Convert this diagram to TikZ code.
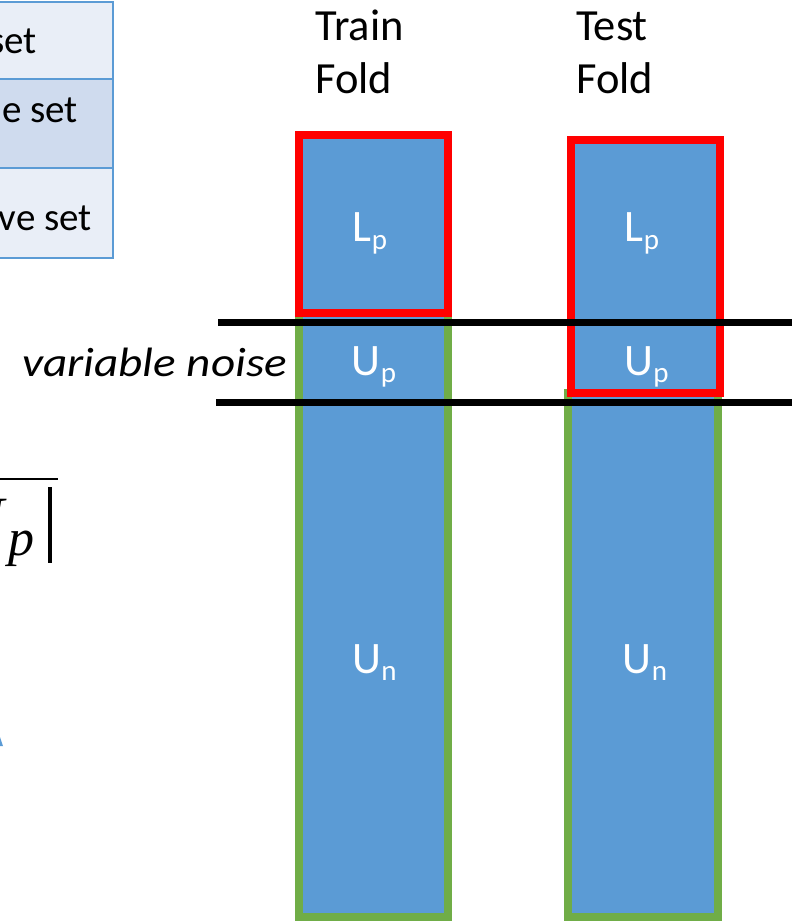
\documentclass[tikz,border=0pt]{standalone}
\usepackage{fontspec}
\setmainfont{Carlito}
\newfontfamily\serifx{Liberation Serif}
\definecolor{boxblue}{HTML}{5B9BD5}
\definecolor{boxgreen}{HTML}{70AD47}
\definecolor{boxred}{HTML}{FF0000}
\definecolor{cellA}{HTML}{E9EEF7}
\definecolor{cellB}{HTML}{CFDBEE}
\newcommand\sbs[1]{{\fontsize{29}{32}\selectfont\raisebox{-7.5pt}{#1}}}
\tikzset{
  lab/.style={text=white, inner sep=0pt, anchor=base, font=\fontsize{45}{50}\selectfont},
  head/.style={inner sep=0pt, anchor=base west, font=\fontsize{44.5}{50}\selectfont},
  cell/.style={draw=boxblue, line width=2pt},
  celltext/.style={inner sep=0pt, anchor=base east, font=\fontsize{39}{45}\selectfont},
  sep/.style={line width=7pt},
  redframe/.style={draw=boxred, line width=8pt},
  greenframe/.style={draw=boxgreen, line width=8pt},
}
\begin{document}
\begin{tikzpicture}[x=1pt,y=-1pt]
\useasboundingbox (0,0) rectangle (792,921);
% table fragment
\draw[cell, fill=cellA] (-60,2) rectangle (113,79);
\draw[cell, fill=cellB] (-60,79) rectangle (113,168);
\draw[cell, fill=cellA] (-60,168) rectangle (113,258);
\node[celltext] (t1) at (37,53) {set};
\node[celltext] (t2) at (78,122) {e set};
\node[celltext] (t3) at (92,230) {ve set};
% fraction fragment
\draw[line width=2.5pt] (-10,479) -- (58,479);
\node[inner sep=0pt, anchor=base east, font=\fontsize{60}{70}\selectfont\serifx\itshape] (U) at (4,538) {U};
\node[inner sep=0pt, anchor=base west, font=\fontsize{52}{60}\selectfont\serifx\itshape] (p) at (8,555) {p};
\draw[line width=4pt] (50,487) -- (50,563);
% blue fragment
\fill[boxblue] (0,737) -- (3,746) -- (0,746) -- cycle;
% headings
\node[head] (tr1) at (315,40) {Train};
\node[head] (tr2) at (315,93) {Fold};
\node[head] (te1) at (576,40) {Test};
\node[head] (te2) at (576,93) {Fold};
% train column
\fill[boxblue] (299,135) rectangle (448,917);
\draw[greenframe] (299,313) rectangle (448,917);
\draw[redframe] (299,135) rectangle (448,313);
% test column
\fill[boxblue] (570,140) rectangle (719,917);
\draw[greenframe] (568,393) rectangle (718,917);
\draw[redframe] (571,140) rectangle (720,393);
% separator lines
\coordinate (l1a) at (218,322);
\coordinate (l1b) at (792,322);
\coordinate (l2a) at (216,402);
\coordinate (l2b) at (792,402);
\draw[sep] (l1a) -- (l1b);
\draw[sep] (l2a) -- (l2b);
% labels
\node[lab] (trL) at (370,241.7) {L\sbs{p}};
\node[lab] (trU) at (374,375) {U\sbs{p}};
\node[lab] (trN) at (374.5,673) {U\sbs{n}};
\node[lab] (teL) at (642,241.7) {L\sbs{p}};
\node[lab] (teU) at (646.5,375) {U\sbs{p}};
\node[lab] (teN) at (645,673) {U\sbs{n}};
\node[inner sep=0pt, anchor=base west, font=\fontsize{41}{46}\selectfont\itshape] (vn) at (22,376) {\scalebox{1.15}[1]{variable\ noise}};
\end{tikzpicture}
\end{document}
